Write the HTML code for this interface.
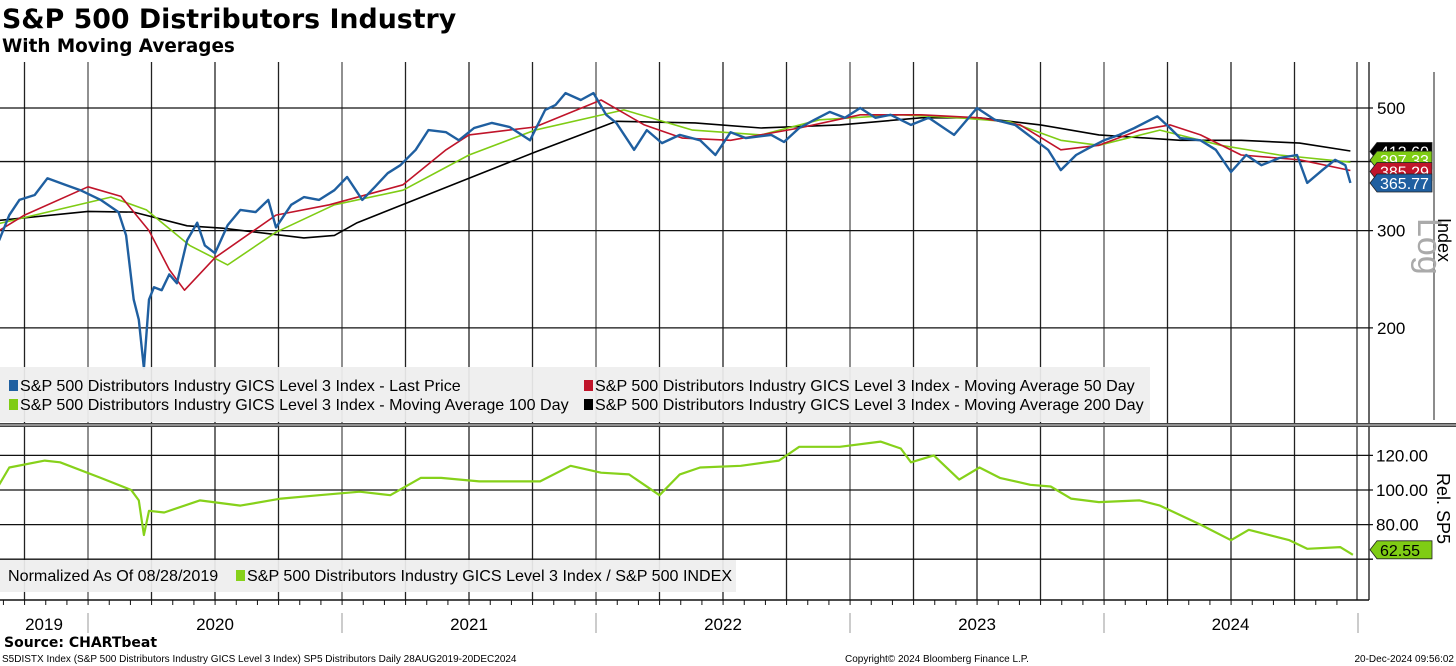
<!DOCTYPE html>
<html><head><meta charset="utf-8"><style>
html,body{margin:0;padding:0;background:#fff;width:1456px;height:666px;overflow:hidden}
svg{display:block;font-family:"Liberation Sans","DejaVu Sans",sans-serif}
</style></head><body>
<svg id="chart" width="1456" height="666" viewBox="0 0 1456 666" xmlns="http://www.w3.org/2000/svg">
<text x="2" y="28" font-size="26.8" font-weight="bold" style="font-family:'DejaVu Sans',sans-serif">S&amp;P 500 Distributors Industry</text>
<text x="2" y="52" font-size="18.4" font-weight="bold" style="font-family:'DejaVu Sans',sans-serif">With Moving Averages</text>
<g id="grid"></g>
<g id="series"></g>
<g id="overlay"></g>
</svg>
<script>
// ---- data ----
const priceDates=[2019.65,2019.69,2019.73,2019.79,2019.84,2019.91,2019.97,2020.05,2020.12,2020.15,2020.18,2020.20,2020.22,2020.24,2020.26,2020.29,2020.32,2020.35,2020.39,2020.43,2020.46,2020.50,2020.55,2020.60,2020.66,2020.71,2020.74,2020.80,2020.85,2020.91,2020.97,2021.02,2021.08,2021.13,2021.18,2021.23,2021.29,2021.34,2021.41,2021.46,2021.52,2021.59,2021.66,2021.74,2021.80,2021.84,2021.88,2021.94,2021.99,2022.04,2022.08,2022.15,2022.20,2022.26,2022.33,2022.41,2022.47,2022.53,2022.59,2022.69,2022.74,2022.80,2022.86,2022.92,2022.98,2023.04,2023.10,2023.16,2023.24,2023.31,2023.41,2023.50,2023.57,2023.65,2023.73,2023.78,2023.83,2023.89,2023.94,2024.00,2024.06,2024.12,2024.21,2024.26,2024.30,2024.38,2024.44,2024.50,2024.56,2024.62,2024.69,2024.76,2024.80,2024.86,2024.91,2024.95,2024.97];
const priceValues=[288,320,341,348,373,363,355,341,324,294,225,207,169,225,237,234,250,241,288,310,282,273,307,327,324,341,304,334,345,341,355,375,341,360,381,394,420,456,452,437,460,470,462,437,496,506,532,517,532,486,470,420,456,432,447,437,411,452,441,447,434,460,476,492,480,500,480,486,466,480,447,500,476,466,437,420,386,411,423,437,447,460,483,460,441,437,420,383,411,394,406,411,366,386,403,394,366];
const ma50Dates=[2019.65,2019.75,2020.00,2020.13,2020.24,2020.32,2020.38,2020.50,2020.74,2020.95,2021.24,2021.41,2021.50,2021.76,2022.02,2022.19,2022.34,2022.53,2022.80,2023.04,2023.28,2023.51,2023.67,2023.83,2023.98,2024.14,2024.26,2024.38,2024.54,2024.77,2024.97];
const ma50Values=[300,320,360,346,300,255,234,268,320,334,363,420,447,462,517,466,441,437,460,486,486,480,466,420,428,456,466,447,411,403,385.29];
const ma100Dates=[2019.65,2020.09,2020.23,2020.40,2020.55,2020.74,2020.97,2021.24,2021.50,2021.76,2022.11,2022.38,2022.65,2022.88,2023.20,2023.43,2023.63,2023.83,2023.98,2024.22,2024.46,2024.69,2024.97];
const ma100Values=[309,345,327,282,260,298,334,355,411,456,496,456,447,476,486,480,472,437,428,456,428,411,399];
const ma200Dates=[2019.65,2020.00,2020.18,2020.39,2020.53,2020.85,2020.97,2021.06,2021.50,2021.76,2022.08,2022.39,2022.65,2022.96,2023.28,2023.51,2023.75,2023.98,2024.30,2024.54,2024.77,2024.97];
const ma200Values=[313,325,324,306,303,291,294,310,373,416,473,470,460,466,480,480,466,447,437,437,432,418];
const relDates=[2019.65,2019.69,2019.83,2019.89,2020.05,2020.17,2020.20,2020.22,2020.24,2020.30,2020.44,2020.60,2020.76,2020.91,2021.07,2021.19,2021.31,2021.39,2021.54,2021.78,2021.90,2022.02,2022.13,2022.25,2022.33,2022.41,2022.57,2022.72,2022.80,2022.96,2023.12,2023.20,2023.24,2023.33,2023.43,2023.51,2023.59,2023.71,2023.79,2023.87,2023.98,2024.14,2024.22,2024.38,2024.50,2024.57,2024.73,2024.80,2024.93,2024.98];
const relValues=[103,113,117,116,107,100,94,74,88,87,94,91,95,97,99,97,107,107,105,105,114,110,109,97,109,113,114,117,125,125,128,124,116,120,106,113,107,103,102,95,93,94,91,80,71,77,71,66,67,62.55];
const topTicks=[200,300,400,500];
const topTickLabels=["200","300","","500"];
const relTicks=[60,80,100,120];
const relTickLabels=["","80.00","100.00","120.00"];
const years=[2019,2020,2021,2022,2023,2024];

// ---- axes ----
const X=t=>88+(t-2020)*254;
const YT=v=>108-240*Math.log(v/500);
const YR=v=>490-1.73*(v-100);
const NS="http://www.w3.org/2000/svg";
function mk(tag,attrs,parent){const e=document.createElementNS(NS,tag);for(const k in attrs)e.setAttribute(k,attrs[k]);parent.appendChild(e);return e;}
const grid=document.getElementById('grid'),ser=document.getElementById('series'),ov=document.getElementById('overlay');
const PR=1357;

for(let q=0;q<22;q++){const t=2019.75+q*0.25;const x=X(t);if(x<0||x>PR)continue;
 const l=mk('line',{x1:x,y1:62,x2:x,y2:600,stroke:(Math.abs(t-Math.round(t))<0.01)?'#555':'#222','stroke-width':1.3},grid);
 
 }
mk('line',{x1:PR,y1:62,x2:PR,y2:600,stroke:'#777','stroke-width':2},grid);
mk('line',{x1:1369,y1:62,x2:1369,y2:600,stroke:'#333','stroke-width':1.5},grid);
mk('line',{x1:1434,y1:72,x2:1434,y2:420,stroke:'#666','stroke-width':1.5},grid);
topTicks.forEach((v,i)=>{const y=YT(v);
 const l=mk('line',{x1:0,y1:y,x2:1373,y2:y,stroke:'#111','stroke-width':1.3},grid);
 
 
 if(topTickLabels[i]){const t=mk('text',{x:1377,y:y+6,'font-size':17},grid);t.textContent=topTickLabels[i];
 
 }});
relTicks.forEach((v,i)=>{const y=YR(v);
 const l=mk('line',{x1:0,y1:y,x2:1373,y2:y,stroke:'#111','stroke-width':1.3},grid);
 
 
 if(relTickLabels[i]){const t=mk('text',{x:1376,y:y+6,'font-size':17},grid);t.textContent=relTickLabels[i];
 
 }});
mk('rect',{x:0,y:423,width:1456,height:4,fill:'#444'},grid);
mk('line',{x1:0,y1:425,x2:1456,y2:425,stroke:'#ddd','stroke-width':1},grid);
mk('line',{x1:0,y1:600,x2:1369,y2:600,stroke:'#111','stroke-width':1.5},grid);
for(let m=0;m<65;m++){const t=2019.667+m/12;const x=X(t);if(x>PR)break;mk('line',{x1:x,y1:600,x2:x,y2:605,stroke:'#111'},grid);}
years.forEach(yr=>{const x0=Math.max(0,X(yr)),x1=Math.min(PR,X(yr+1));
 const t=mk('text',{x:(x0+x1)/2,y:630,'font-size':17,'text-anchor':'middle'},grid);t.textContent=yr;
 
 
 if(yr>2019)mk('line',{x1:X(yr),y1:613,x2:X(yr),y2:633,stroke:'#999'},grid);});
mk('line',{x1:X(2025),y1:613,x2:X(2025),y2:633,stroke:'#999'},grid);

function line(d,v,yf,color,w,name){const p=d.map((t,i)=>(i?'L':'M')+X(t).toFixed(1)+','+yf(v[i]).toFixed(1)).join('');
 const e=mk('path',{d:p,fill:'none',stroke:color,'stroke-width':w,'stroke-linejoin':'round'},ser);
 
 }
line(ma200Dates,ma200Values,YT,'#000',1.6,'ma200-line');
line(ma100Dates,ma100Values,YT,'#7fcc14',1.6,'ma100-line');
line(ma50Dates,ma50Values,YT,'#c0142a',1.6,'ma50-line');
line(priceDates,priceValues,YT,'#1f5fa0',2.4,'price-line');
line(relDates,relValues,YR,'#86d11a',2.2,'relative-line');

function tag(y,txt,bg,fg,name){const g=mk('g',{},ov);
 
 
 mk('path',{d:`M1370,${y} L1377,${y-9} L1432,${y-9} L1432,${y+9} L1377,${y+9} Z`,fill:bg,stroke:'#222','stroke-width':0.8},g);
 const t=mk('text',{x:1380,y:y+6,'font-size':16,fill:fg},g);t.textContent=txt;}
tag(YT(413.6)-2,'413.60','#000','#fff','tag-ma200');
tag(YT(399)-2,'397.33','#7fcc14','#fff','tag-ma100');
tag(YT(385.29)+1,'385.29','#c0142a','#fff','tag-ma50');
tag(YT(365.77),'365.77','#1f5fa0','#fff','tag-price');
tag(YR(62.55)-5,'62.55','#7fcc14','#000','tag-relative');

let t=mk('text',{x:0,y:0,'font-size':34,fill:'#aaa',transform:'translate(1418 218) rotate(90)'},ov);t.textContent='Log';

t=mk('text',{x:0,y:0,'font-size':18,transform:'translate(1438 218) rotate(90)'},ov);t.textContent='Index';

t=mk('text',{x:0,y:0,'font-size':18,transform:'translate(1437 473) rotate(90)'},ov);t.textContent='Rel. SP5';


function legend(x,y,w,h,items,name){const g=mk('g',{},ov);
 
 
 mk('rect',{x:x,y:y,width:w,height:h,fill:'#eeeeee','fill-opacity':0.93},g);
 items.forEach(it=>{if(it.c)mk('rect',{x:it.x,y:it.y-11,width:9,height:11,fill:it.c},g);
  const tt=mk('text',{x:it.x+(it.c?11:0),y:it.y,'font-size':16.1},g);tt.textContent=it.t;});}
legend(0,367,1150,55,[
 {x:9,y:391,c:'#1f5fa0',t:'S&P 500 Distributors Industry GICS Level 3 Index - Last Price'},
 {x:9,y:410,c:'#7fcc14',t:'S&P 500 Distributors Industry GICS Level 3 Index - Moving Average 100 Day'},
 {x:584,y:391,c:'#c0142a',t:'S&P 500 Distributors Industry GICS Level 3 Index - Moving Average 50 Day'},
 {x:584,y:410,c:'#000',t:'S&P 500 Distributors Industry GICS Level 3 Index - Moving Average 200 Day'}],'price-legend');
legend(0,560,736,32,[
 {x:8,y:581,c:null,t:'Normalized As Of 08/28/2019'},
 {x:236,y:581,c:'#86d11a',t:'S&P 500 Distributors Industry GICS Level 3 Index / S&P 500 INDEX'}],'relative-legend');

t=mk('text',{x:4,y:647,'font-size':14,'font-weight':'bold',style:"font-family:'DejaVu Sans',sans-serif"},ov);t.textContent='Source: CHARTbeat';

t=mk('text',{x:2,y:662,'font-size':10},ov);t.textContent='S5DISTX Index (S&P 500 Distributors Industry GICS Level 3 Index) SP5 Distributors  Daily 28AUG2019-20DEC2024';

t=mk('text',{x:845,y:662,'font-size':10},ov);t.textContent='Copyright© 2024 Bloomberg Finance L.P.';

t=mk('text',{x:1454,y:662,'font-size':10,'text-anchor':'end'},ov);t.textContent='20-Dec-2024 09:56:02';

</script>
</body></html>
